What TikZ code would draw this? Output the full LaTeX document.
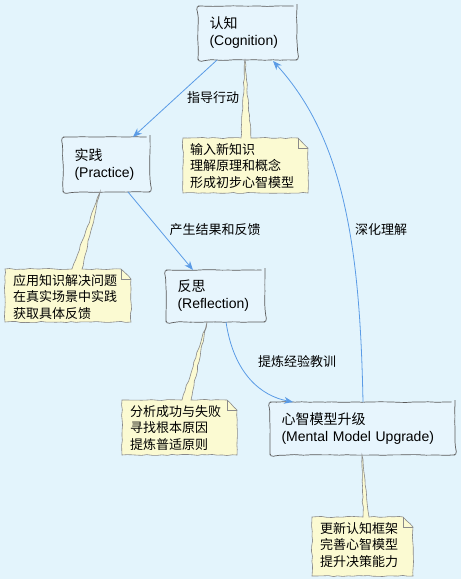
\documentclass[tikz,border=0pt]{standalone}
\usepackage{fontspec}
\setmainfont{Liberation Sans}
\newfontfamily\cjk{Noto Sans CJK SC}
\usetikzlibrary{calc,decorations.pathmorphing,arrows.meta}
\definecolor{bg}{HTML}{E3F4FC}
\definecolor{boxfill}{HTML}{E7F5FD}
\definecolor{boxline}{HTML}{5A5A5A}
\definecolor{notefill}{HTML}{FBFAD2}
\definecolor{noteline}{HTML}{8A8A8A}
\definecolor{edgecol}{HTML}{5A9BE6}
\pgfmathsetseed{7}
\tikzset{
  wobble/.style={decorate,decoration={random steps,segment length=6pt,amplitude=0.45pt}},
  box/.style={draw=boxline, fill=boxfill, line width=0.7pt, wobble, rounded corners=3.5pt,
    anchor=north west, inner xsep=11.5pt, inner ysep=0pt, outer sep=0pt, align=left,
    font=\fontsize{14}{17}\selectfont},
  notebody/.style={draw=noteline, fill=notefill, line width=0.6pt,
    decorate,decoration={random steps,segment length=5pt,amplitude=0.6pt}},
  notefold/.style={draw=noteline, line width=0.6pt},
  notetext/.style={anchor=north west, inner sep=0pt, align=left,
    font=\fontsize{13}{16.5}\selectfont\cjk},
  lbl/.style={inner sep=0pt, font=\fontsize{13}{15}\selectfont\cjk},
  edge/.style={draw=edgecol, line width=0.8pt, -{Stealth[length=9pt,width=7pt]}}
}
\begin{document}
\begin{tikzpicture}[x=1pt,y=-1pt]
\path[use as bounding box, fill=bg] (0,0) rectangle (461,579);

% main nodes
\node[box, text width=76pt, minimum height=54pt] (cog) at (198,6) {{\cjk 认知}\\(Cognition)};
\node[box, text width=64pt, minimum height=55pt] (prac) at (63,137) {{\cjk 实践}\\(Practice)};
\node[box, text width=76pt, minimum height=52pt] (refl) at (166,270) {{\cjk 反思}\\(Reflection)};
\node[box, text width=162pt, minimum height=53pt] (ment) at (270,402) {{\cjk 心智模型升级}\\(Mental Model Upgrade)};

% notes
\path[notebody] (183,138) -- (241,138) -- ($(cog.south west)+(47,0)$) -- (251,138) -- (298,138)
  -- (308,148) -- (308,193) -- (183,193) -- cycle;
\draw[notefold] (298,138) -- (298,148) -- (308,148);
\node[notetext] (n1) at (190,143) {输入新知识\\理解原理和概念\\形成初步心智模型};

\path[notebody] (5,269) -- (72,269) -- ($(prac.south west)+(37,0)$) -- (82,269) -- (121,269)
  -- (131,279) -- (131,322) -- (5,322) -- cycle;
\draw[notefold] (121,269) -- (121,279) -- (131,279);
\node[notetext] (n2) at (13,274) {应用知识解决问题\\在真实场景中实践\\获取具体反馈};

\path[notebody] (122,400) -- (182,400) -- ($(refl.south west)+(41,0)$) -- (191,400) -- (227,400)
  -- (237,410) -- (237,455) -- (122,455) -- cycle;
\draw[notefold] (227,400) -- (227,410) -- (237,410);
\node[notetext] (n3) at (130,405) {分析成功与失败\\寻找根本原因\\提炼普适原则};

\path[notebody] (312,517) -- (363,517) -- ($(ment.south west)+(92,0)$) -- (369,517) -- (403,517)
  -- (413,527) -- (413,576) -- (312,576) -- cycle;
\draw[notefold] (403,517) -- (403,527) -- (413,527);
\node[notetext] (n4) at (320,522) {更新认知框架\\完善心智模型\\提升决策能力};

% edges
\draw[edge] ($(cog.south west)+(19,0)$) -- ($(prac.north east)+(-17,0)$);
\draw[edge] ($(prac.south west)+(65,0)$) -- ($(refl.north west)+(27,0)$);
\draw[edge] ($(refl.south west)+(60,0)$) .. controls (234,375) and (262,396) .. ($(ment.north west)+(23,0)$);
\draw[edge] ($(ment.north west)+(93,0)$) .. controls (360,250) and (345,140) .. ($(cog.south west)+(75,1)$);

% edge labels
\node[lbl] (l1) at (213,98) {指导行动};
\node[lbl] (l2) at (215,230) {产生结果和反馈};
\node[lbl] (l3) at (297,362) {提炼经验教训};
\node[lbl] (l4) at (381,230) {深化理解};
\end{tikzpicture}
\end{document}
